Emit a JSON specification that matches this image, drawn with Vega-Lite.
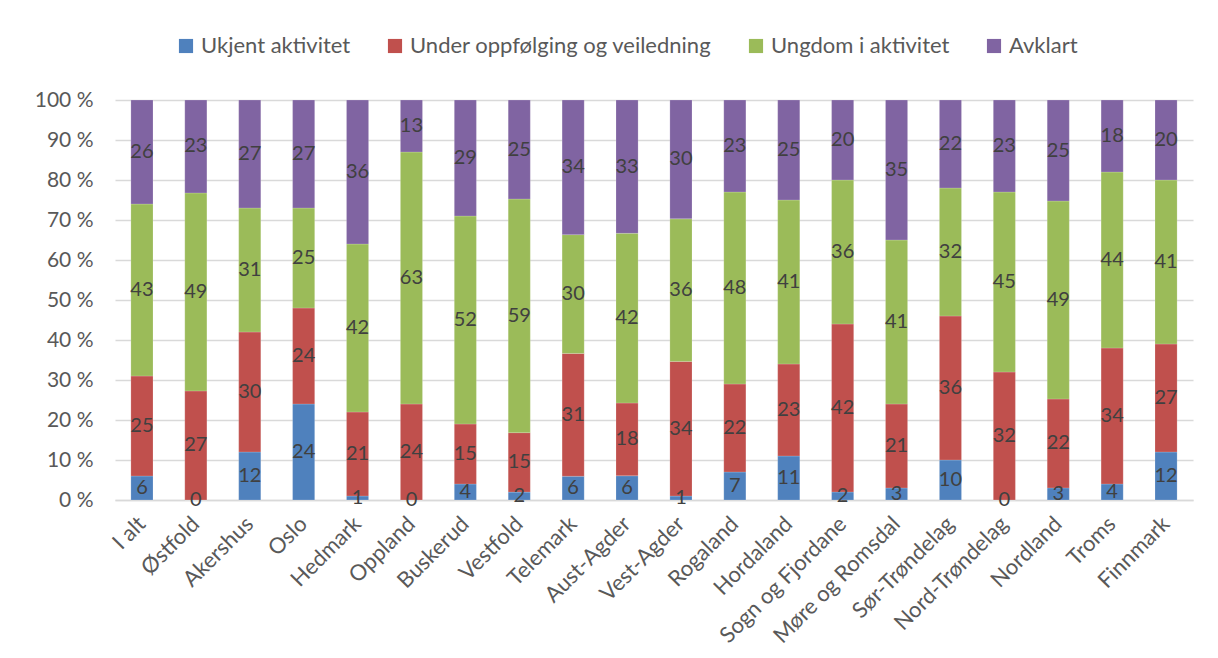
{
  "$schema": "https://vega.github.io/schema/vega-lite/v6.json",
  "width": 1078,
  "height": 400,
  "autosize": {"type": "none"},
  "padding": {"left": 115, "top": 100, "right": 25, "bottom": 158},
  "background": "white",
  "config": {
    "font": "Lato",
    "view": {"stroke": null}
  },
  "data": {
    "values": [
      {"region":"I alt","Ukjent aktivitet":6,"Under oppfølging og veiledning":25,"Ungdom i aktivitet":43,"Avklart":26},
      {"region":"Østfold","Ukjent aktivitet":0,"Under oppfølging og veiledning":27,"Ungdom i aktivitet":49,"Avklart":23},
      {"region":"Akershus","Ukjent aktivitet":12,"Under oppfølging og veiledning":30,"Ungdom i aktivitet":31,"Avklart":27},
      {"region":"Oslo","Ukjent aktivitet":24,"Under oppfølging og veiledning":24,"Ungdom i aktivitet":25,"Avklart":27},
      {"region":"Hedmark","Ukjent aktivitet":1,"Under oppfølging og veiledning":21,"Ungdom i aktivitet":42,"Avklart":36},
      {"region":"Oppland","Ukjent aktivitet":0,"Under oppfølging og veiledning":24,"Ungdom i aktivitet":63,"Avklart":13},
      {"region":"Buskerud","Ukjent aktivitet":4,"Under oppfølging og veiledning":15,"Ungdom i aktivitet":52,"Avklart":29},
      {"region":"Vestfold","Ukjent aktivitet":2,"Under oppfølging og veiledning":15,"Ungdom i aktivitet":59,"Avklart":25},
      {"region":"Telemark","Ukjent aktivitet":6,"Under oppfølging og veiledning":31,"Ungdom i aktivitet":30,"Avklart":34},
      {"region":"Aust-Agder","Ukjent aktivitet":6,"Under oppfølging og veiledning":18,"Ungdom i aktivitet":42,"Avklart":33},
      {"region":"Vest-Agder","Ukjent aktivitet":1,"Under oppfølging og veiledning":34,"Ungdom i aktivitet":36,"Avklart":30},
      {"region":"Rogaland","Ukjent aktivitet":7,"Under oppfølging og veiledning":22,"Ungdom i aktivitet":48,"Avklart":23},
      {"region":"Hordaland","Ukjent aktivitet":11,"Under oppfølging og veiledning":23,"Ungdom i aktivitet":41,"Avklart":25},
      {"region":"Sogn og Fjordane","Ukjent aktivitet":2,"Under oppfølging og veiledning":42,"Ungdom i aktivitet":36,"Avklart":20},
      {"region":"Møre og Romsdal","Ukjent aktivitet":3,"Under oppfølging og veiledning":21,"Ungdom i aktivitet":41,"Avklart":35},
      {"region":"Sør-Trøndelag","Ukjent aktivitet":10,"Under oppfølging og veiledning":36,"Ungdom i aktivitet":32,"Avklart":22},
      {"region":"Nord-Trøndelag","Ukjent aktivitet":0,"Under oppfølging og veiledning":32,"Ungdom i aktivitet":45,"Avklart":23},
      {"region":"Nordland","Ukjent aktivitet":3,"Under oppfølging og veiledning":22,"Ungdom i aktivitet":49,"Avklart":25},
      {"region":"Troms","Ukjent aktivitet":4,"Under oppfølging og veiledning":34,"Ungdom i aktivitet":44,"Avklart":18},
      {"region":"Finnmark","Ukjent aktivitet":12,"Under oppfølging og veiledning":27,"Ungdom i aktivitet":41,"Avklart":20}
    ]
  },
  "transform": [
    {"fold": ["Ukjent aktivitet","Under oppfølging og veiledning","Ungdom i aktivitet","Avklart"], "as": ["serie","verdi"]},
    {"window": [{"op": "row_number", "as": "rad"}]},
    {"stack": "verdi", "groupby": ["region"], "sort": [{"field": "rad", "order": "ascending"}], "offset": "normalize", "as": ["y0","y1"]},
    {"calculate": "(datum.y0 + datum.y1) / 2", "as": "ymid"}
  ],
  "encoding": {
    "x": {
      "field": "region", "type": "nominal", "sort": null,
      "scale": {"paddingInner": 0.59, "paddingOuter": 0.295},
      "axis": {
        "title": null, "labelAngle": -45, "labelAlign": "right", "labelBaseline": "middle",
        "labelFontSize": 22, "labelColor": "#595959", "labelPadding": 20,
        "labelOverlap": false, "labelLimit": 300,
        "ticks": false, "domainColor": "#d9d9d9", "domainWidth": 1.5, "grid": false
      }
    }
  },
  "layer": [
    {
      "mark": {"type": "bar", "stroke": "#ffffff", "strokeOpacity": 0.35, "strokeWidth": 0.5},
      "encoding": {
        "y": {
          "field": "y0", "type": "quantitative",
          "scale": {"domain": [0, 1], "nice": false},
          "axis": {
            "title": null, "values": [0,0.1,0.2,0.3,0.4,0.5,0.6,0.7,0.8,0.9,1],
            "labelExpr": "round(datum.value * 100) + ' %'",
            "labelOverlap": false,
            "labelFontSize": 21, "labelColor": "#595959", "labelPadding": 22,
            "ticks": false, "domain": false, "gridColor": "#d9d9d9", "gridWidth": 1.5
          }
        },
        "y2": {"field": "y1"},
        "color": {
          "field": "serie", "type": "nominal",
          "scale": {
            "domain": ["Ukjent aktivitet","Under oppfølging og veiledning","Ungdom i aktivitet","Avklart"],
            "range": ["#4F81BD","#C0504D","#9BBB59","#8064A2"]
          },
          "legend": {
            "title": null, "orient": "none", "direction": "horizontal",
            "legendX": 60, "legendY": -65,
            "symbolType": "square", "symbolSize": 200, "symbolStrokeWidth": 0,
            "labelFontSize": 22, "labelColor": "#595959", "labelOffset": 4,
            "columnPadding": 33, "labelLimit": 400
          }
        }
      }
    },
    {
      "mark": {"type": "text", "fontSize": 20, "color": "#404040", "baseline": "middle"},
      "encoding": {
        "y": {
          "field": "ymid", "type": "quantitative",
          "scale": {"domain": [0, 1], "nice": false},
          "axis": {
            "title": null, "values": [0,0.1,0.2,0.3,0.4,0.5,0.6,0.7,0.8,0.9,1],
            "labelExpr": "round(datum.value * 100) + ' %'",
            "labelOverlap": false,
            "labelFontSize": 21, "labelColor": "#595959", "labelPadding": 22,
            "ticks": false, "domain": false, "gridColor": "#d9d9d9", "gridWidth": 1.5
          }
        },
        "text": {"field": "verdi", "type": "quantitative"}
      }
    }
  ]
}
